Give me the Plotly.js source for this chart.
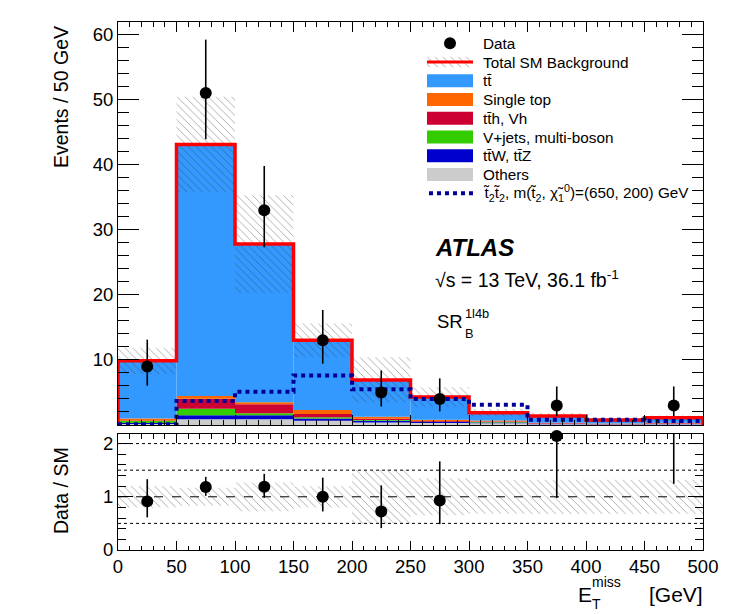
<!DOCTYPE html>
<html><head><meta charset="utf-8">
<script src="https://cdn.plot.ly/plotly-3.0.1.min.js"></script>
<style>body{margin:0;background:#fff}</style>
</head><body><div id="chart" style="width:747px;height:614px"></div>
<script>
// ---------- data ----------
const binCenters = [25,75,125,175,225,275,325,375,425,475];
const binEdges   = [0,50,100,150,200,250,300,350,400,450,500];
const dataCounts = [9,51,33,13,5,4,0,3,0,3];
const dataErrUp   = [4.11,8.19,6.79,4.67,3.38,3.16,1.84,2.92,1.84,2.92];
const dataErrDown = [2.96,7.11,5.71,3.58,2.16,1.91,0,1.63,0,1.63];
const ttbar     = [8.85,38.65,24.3,10.7,5.65,3.5,1.2,1.05,0.56,0.75];
const singleTop = [0.3,0.4,0.3,0.6,0.3,0.2,0.15,0.1,0.06,0.1];
const ttH       = [0.1,1.55,1.4,0.5,0.2,0.1,0.1,0.05,0.03,0.05];
const vJets     = [0.3,1.0,0.3,0.2,0.1,0.05,0.05,0.02,0.02,0.02];
const ttV       = [0.15,0.6,0.6,0.35,0.25,0.15,0.15,0.08,0.05,0.08];
const others    = [0.15,0.9,0.9,0.65,0.4,0.3,0.25,0.1,0.06,0.1];
const totalSM   = [9.85,43.1,27.8,13.0,6.9,4.3,1.9,1.4,0.78,1.1];
const totalUnc  = [2.0,7.3,7.5,2.6,3.5,1.5,0.6,0.45,0.25,0.35];
const signal    = [0.1,3.7,5.1,7.6,5.5,4.0,3.1,0.8,0.8,0.6];
const mainYTicks  = [10,20,30,40,50,60];
const ratioYTicks = [0,1,2];
const xTicks = [0,50,100,150,200,250,300,350,400,450,500];
const ratioRefLines = [0.5,1.5,2];
const legendLabels = ['Data','Total SM Background','tt\u0304','Single top','tt\u0304h, Vh',
  'V+jets, multi-boson','tt\u0304W, tt\u0304Z','Others',
  't\u0303<sub>2</sub>t\u0303<sub>2</sub>, m(t\u0303<sub>2</sub>, \u03C7\u0303<sub>1</sub><sup>0</sup>)=(650, 200) GeV'];

// ---------- styles ----------
const FONT = '"Liberation Sans", Arial, Helvetica, sans-serif';
const C = {ttbar:'#3399FF', single:'#FF6600', tth:'#CC0033', vjets:'#33CC00', ttv:'#0000CC', others:'#CCCCCC', sig:'#000099', tot:'#FF0000'};
const W=747, H=614, L=118, R=44, T=22, B=64;
const PW=W-L-R, PH=H-T-B;
const px = x => (x-L)/PW;
const py = y => (H-B-y)/PH;
const RATIO_MAX = 2.18;
const hatch = {shape:'\\', fgcolor:'#333333', bgcolor:'rgba(0,0,0,0)', size:5.5, solidity:0.14, fillmode:'overlay'};

const traces = [];
const stack = [
  {v:others, c:C.others}, {v:ttV, c:C.ttv}, {v:vJets, c:C.vjets},
  {v:ttH, c:C.tth}, {v:singleTop, c:C.single}, {v:ttbar, c:C.ttbar}
];
let cum = binCenters.map(()=>0);
stack.forEach(s=>{
  traces.push({type:'bar', x:binCenters, y:s.v, base:cum.slice(), width:50,
    marker:{color:s.c, line:{width:0}}, xaxis:'x', yaxis:'y', hoverinfo:'skip', showlegend:false});
  cum = cum.map((c,i)=>c+s.v[i]);
});
traces.push({type:'bar', x:binCenters, y:totalUnc.map(u=>2*u), base:totalSM.map((t,i)=>t-totalUnc[i]), width:50,
  marker:{color:'rgba(0,0,0,0)', line:{width:0}, pattern:hatch}, xaxis:'x', yaxis:'y', hoverinfo:'skip', showlegend:false});
traces.push({type:'scatter', mode:'lines',
  x:[binEdges[0]].concat(binEdges.slice(0,10), [binEdges[10], binEdges[10]]),
  y:[0].concat(totalSM, [totalSM[9], 0]),
  line:{shape:'hv', color:C.tot, width:3.5}, xaxis:'x', yaxis:'y', hoverinfo:'skip', showlegend:false});
traces.push({type:'scatter', mode:'lines', x:binEdges, y:signal.concat([signal[9]]),
  line:{shape:'hv', color:C.sig, width:4, dash:'dot'}, xaxis:'x', yaxis:'y', hoverinfo:'skip', showlegend:false});
traces.push({type:'scatter', mode:'markers', x:binCenters, y:dataCounts.map(d=>d>0?d:null),
  marker:{color:'black', size:12},
  error_y:{type:'data', symmetric:false, array:dataErrUp, arrayminus:dataErrDown, color:'black', thickness:1.6, width:0},
  xaxis:'x', yaxis:'y', hoverinfo:'skip', showlegend:false});

// ratio panel
const relUnc = totalUnc.map((u,i)=>u/totalSM[i]);
traces.push({type:'bar', x:binCenters, y:relUnc.map(r=>2*r), base:relUnc.map(r=>1-r), width:50,
  marker:{color:'rgba(0,0,0,0)', line:{width:0}, pattern:hatch}, xaxis:'x2', yaxis:'y2', hoverinfo:'skip', showlegend:false});
const ratio = dataCounts.map((d,i)=>d>0 ? d/totalSM[i] : null);
traces.push({type:'scatter', mode:'markers', x:binCenters, y:ratio,
  marker:{color:'rgba(0,0,0,0)', size:1},
  error_y:{type:'data', symmetric:false, array:dataErrUp.map((e,i)=>e/totalSM[i]), arrayminus:dataErrDown.map((e,i)=>e/totalSM[i]), color:'black', thickness:1.6, width:0},
  cliponaxis:true, xaxis:'x2', yaxis:'y2', hoverinfo:'skip', showlegend:false});
traces.push({type:'scatter', mode:'markers', x:binCenters, y:ratio.map(r=>(r!==null && r<=RATIO_MAX)?r:null),
  marker:{color:'black', size:12}, cliponaxis:false, xaxis:'x2', yaxis:'y2', hoverinfo:'skip', showlegend:false});

// legend hatch swatch (mini axis)
traces.push({type:'bar', x:[0.5], y:[1], base:[0], width:[1],
  marker:{color:'rgba(0,0,0,0)', line:{width:0}, pattern:hatch}, xaxis:'x3', yaxis:'y3', hoverinfo:'skip', showlegend:false});

const axBase = {showline:true, linecolor:'black', linewidth:1, mirror:'allticks', ticks:'inside', tickcolor:'black', tickwidth:1,
  showgrid:false, zeroline:false, tickfont:{family:FONT, size:18.5, color:'black'}, fixedrange:true};

const shapes = [];
ratioRefLines.forEach(v=>shapes.push({type:'line', xref:'x2', yref:'y2', x0:0, x1:500, y0:v, y1:v, layer:'below', line:{color:'black', width:1, dash:'dot'}}));
shapes.push({type:'line', xref:'x2', yref:'y2', x0:0, x1:500, y0:1, y1:1, layer:'below', line:{color:'black', width:1, dash:'dash'}});

const rowY = i => 43.3 + i*18.75;
const swX0 = 427, swX1 = 473, txtX = 481;
const swatchColors = [null, null, C.ttbar, C.single, C.tth, C.vjets, C.ttv, C.others, null];
swatchColors.forEach((c,i)=>{
  if(c) shapes.push({type:'rect', xref:'paper', yref:'paper', x0:px(swX0), x1:px(swX1), y0:py(rowY(i)+6.5), y1:py(rowY(i)-6.5), fillcolor:c, line:{width:0}});
});
shapes.push({type:'circle', xref:'paper', yref:'paper', x0:px(444), x1:px(456), y0:py(rowY(0)+6), y1:py(rowY(0)-6), fillcolor:'black', line:{width:0}});
shapes.push({type:'line', xref:'paper', yref:'paper', x0:px(swX0), x1:px(swX1), y0:py(rowY(1)), y1:py(rowY(1)), line:{color:C.tot, width:3}});
shapes.push({type:'line', xref:'paper', yref:'paper', x0:px(swX0+2), x1:px(swX1), y0:py(rowY(8)), y1:py(rowY(8)), line:{color:C.sig, width:4, dash:'dot'}});

const annotations = [];
legendLabels.forEach((t,i)=>annotations.push({xref:'paper', yref:'paper', x:px(txtX), y:py(rowY(i)), xanchor:'left', yanchor:'middle',
  text:t, showarrow:false, font:{family:FONT, size:15.3, color:'black'}}));
const A = (x,y,text,size,opts) => annotations.push(Object.assign({xref:'paper', yref:'paper', x:px(x), y:py(y), text:text, showarrow:false,
  xanchor:'left', yanchor:'middle', font:{family:FONT, size:size, color:'black'}}, opts||{}));
A(433, 248, '<b><i>ATLAS</i></b>', 24);
A(433, 279, '\u221As = 13 TeV, 36.1 fb<sup>-1</sup>', 19.5);
A(465, 321, 'SR', 18.5, {xanchor:'right'});
A(463, 313, '1l4b', 12.8);
A(463, 334, 'B', 12.8);
A(61, 24, 'Events / 50 GeV', 19.5, {xanchor:'center', yanchor:'top', textangle:-90});
A(61, 491, 'Data / SM', 19.5, {xanchor:'center', textangle:-90});
A(705, 594, '[GeV]', 21, {xanchor:'right'});
A(594, 594, 'E', 21, {xanchor:'right'});
A(590, 582, 'miss', 14);
A(590, 604, 'T', 14);

const layout = {
  width:W, height:H, margin:{l:L, r:R, t:T, b:B, pad:0},
  paper_bgcolor:'white', plot_bgcolor:'white', barmode:'overlay', showlegend:false,
  font:{family:FONT, color:'black'},
  xaxis:Object.assign({}, axBase, {domain:[0,1], anchor:'y', range:[0,500], tickmode:'array', tickvals:xTicks, ticklen:10,
    minor:{tickmode:'linear', tick0:0, dtick:10, ticklen:5, ticks:'inside', tickcolor:'black'}, showticklabels:false}),
  yaxis:Object.assign({}, axBase, {domain:[py(425),1], anchor:'x', range:[0,61.9], tickmode:'array', tickvals:mainYTicks, ticklen:21,
    minor:{tickmode:'linear', tick0:0, dtick:2, ticklen:11, ticks:'inside', tickcolor:'black'}}),
  xaxis2:Object.assign({}, axBase, {domain:[0,1], anchor:'y2', range:[0,500], tickmode:'array', tickvals:xTicks, ticklen:9,
    minor:{tickmode:'linear', tick0:0, dtick:10, ticklen:4.5, ticks:'inside', tickcolor:'black'}}),
  yaxis2:Object.assign({}, axBase, {domain:[0,py(434)], anchor:'x2', range:[0,RATIO_MAX], tickmode:'array', tickvals:ratioYTicks, ticklen:15,
    minor:{tickmode:'linear', tick0:0, dtick:0.2, ticklen:8, ticks:'inside', tickcolor:'black'}}),
  xaxis3:{domain:[px(swX0), px(swX1)], anchor:'y3', range:[0,1], visible:false, fixedrange:true},
  yaxis3:{domain:[py(rowY(1)+5.5), py(rowY(1)-5.5)], anchor:'x3', range:[0,1], visible:false, fixedrange:true},
  shapes:shapes, annotations:annotations
};
Plotly.newPlot('chart', traces, layout, {staticPlot:true, displayModeBar:false});
</script></body></html>
